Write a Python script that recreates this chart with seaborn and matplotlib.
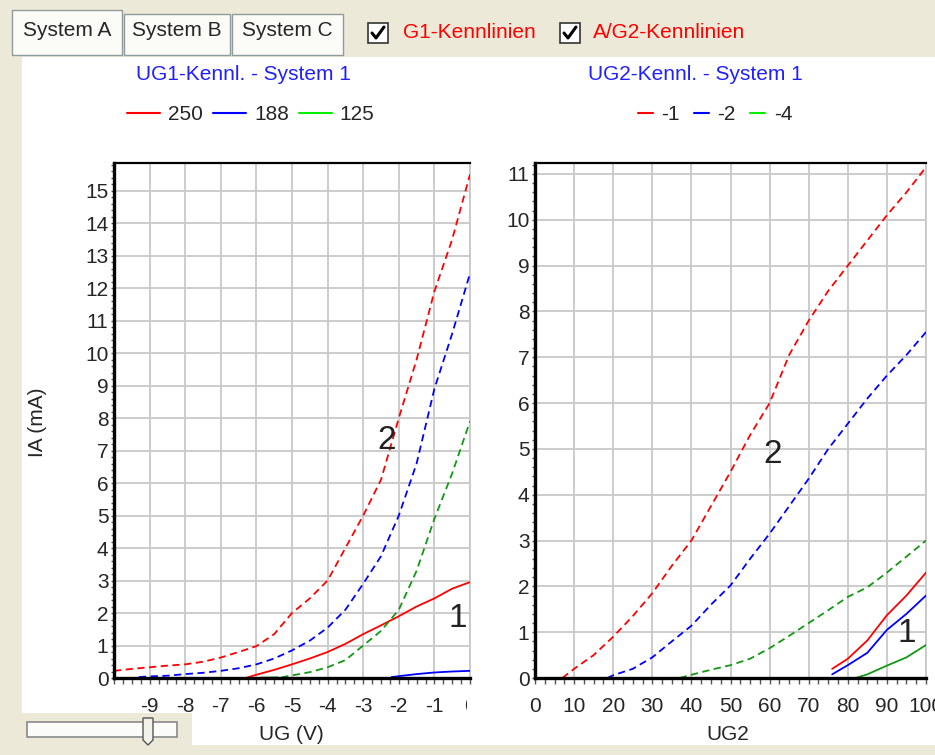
import numpy as np
import pandas as pd
import seaborn as sns
import matplotlib.pyplot as plt
from matplotlib.lines import Line2D
from matplotlib.patches import Rectangle, Polygon
from matplotlib.ticker import MultipleLocator
from matplotlib.transforms import Bbox, TransformedBbox, blended_transform_factory

# ---- left panel: IA (mA) over UG (V), dashed = system 2, solid = system 1
ug1_250_s2 = [-10, -9.5, -9, -8.5, -8, -7.5, -7, -6.5, -6, -5.5, -5, -4.5, -4, -3.5, -3, -2.5, -2, -1.5, -1, -0.5, 0]
ia1_250_s2 = [0.22, 0.28, 0.33, 0.38, 0.42, 0.5, 0.63, 0.8, 0.98, 1.35, 2.0, 2.45, 3.0, 4.0, 5.0, 6.1, 8.0, 9.8, 11.9, 13.5, 15.5]
ug1_188_s2 = [-9.3, -9, -8.5, -8, -7.5, -7, -6.5, -6, -5.5, -5, -4.5, -4, -3.5, -3, -2.5, -2, -1.5, -1, -0.5, 0]
ia1_188_s2 = [0.03, 0.05, 0.07, 0.12, 0.16, 0.22, 0.3, 0.42, 0.6, 0.85, 1.15, 1.55, 2.1, 2.9, 3.75, 5.0, 6.6, 8.9, 10.6, 12.45]
ug1_125_s2 = [-5.3, -5, -4.5, -4, -3.5, -3, -2.5, -2, -1.5, -1, -0.5, 0]
ia1_125_s2 = [0.02, 0.08, 0.18, 0.33, 0.55, 1.0, 1.45, 2.1, 3.3, 4.9, 6.3, 7.9]
ug1_250_s1 = [-6.3, -6, -5.5, -5, -4.5, -4, -3.5, -3, -2.5, -2, -1.5, -1, -0.5, 0]
ia1_250_s1 = [0.0, 0.1, 0.25, 0.42, 0.6, 0.8, 1.05, 1.35, 1.62, 1.9, 2.2, 2.45, 2.75, 2.95]
ug1_188_s1 = [-2.2, -1.5, -1, -0.5, 0]
ia1_188_s1 = [0.03, 0.12, 0.17, 0.2, 0.22]
ug1_125_s1 = [-5.9, -5.4]
ia1_125_s1 = [0.01, 0.02]

# ---- right panel: IA (mA) over UG2
ug2_m1_s2 = [7, 10, 15, 20, 25, 30, 35, 40, 45, 50, 55, 60, 65, 70, 75, 80, 85, 90, 95, 100]
ia2_m1_s2 = [0.0, 0.2, 0.5, 0.9, 1.35, 1.85, 2.45, 3.0, 3.75, 4.5, 5.3, 6.0, 7.05, 7.8, 8.45, 9.0, 9.55, 10.1, 10.6, 11.15]
ug2_m2_s2 = [18.5, 20, 25, 30, 35, 40, 45, 50, 55, 60, 65, 70, 75, 80, 85, 90, 95, 100]
ia2_m2_s2 = [0.0, 0.06, 0.2, 0.45, 0.8, 1.14, 1.6, 2.02, 2.6, 3.15, 3.75, 4.35, 5.0, 5.55, 6.1, 6.6, 7.05, 7.55]
ug2_m4_s2 = [37, 40, 45, 50, 55, 60, 65, 70, 75, 80, 85, 90, 95, 100]
ia2_m4_s2 = [0.0, 0.07, 0.18, 0.28, 0.42, 0.65, 0.92, 1.2, 1.48, 1.77, 1.98, 2.3, 2.65, 3.0]
ug2_m1_s1 = [76, 80, 85, 90, 95, 100]
ia2_m1_s1 = [0.2, 0.42, 0.82, 1.37, 1.8, 2.3]
ug2_m2_s1 = [76, 80, 85, 90, 95, 100]
ia2_m2_s1 = [0.08, 0.28, 0.55, 1.05, 1.4, 1.8]
ug2_m4_s1 = [82, 85, 90, 95, 100]
ia2_m4_s1 = [0.0, 0.08, 0.27, 0.45, 0.72]

left_labels = ['250', '188', '125']
right_labels = ['-1', '-2', '-4']
line_colors = ['#ff0000', '#0000ff', '#119911']
legend_colors = ['#ff0000', '#0000ff', '#00ee00']

sns.set_style("white")
plt.rcParams['font.family'] = ['Liberation Sans', 'DejaVu Sans']
plt.rcParams['axes.unicode_minus'] = False

W, H = 935, 755
def fx(x): return x / W
def fy(y): return 1 - y / H

fig = plt.figure(figsize=(9.35, 7.55), dpi=100)
fig.patch.set_facecolor('#ECE9D8')

# white panel of the tab control (slider box cut out bottom left)
panel = [(22, 57), (935, 57), (935, 745), (192, 745), (192, 713), (22, 713)]
fig.add_artist(Polygon([(fx(a), fy(b)) for a, b in panel], closed=True,
                       transform=fig.transFigure, facecolor='white', edgecolor='none', zorder=0))

ax1 = fig.add_axes([fx(114), fy(678), (470 - 114) / W, (678 - 163) / H])
ax2 = fig.add_axes([fx(535), fy(678), (926 - 535) / W, (678 - 163) / H])


def frame(d):
    rows = []
    for (x, y, c, s) in d:
        rows.append(pd.DataFrame({'x': x, 'y': y, 'curve': c, 'sys': s}))
    return pd.concat(rows, ignore_index=True)


left_df = frame([(ug1_250_s2, ia1_250_s2, 0, 2), (ug1_188_s2, ia1_188_s2, 1, 2), (ug1_125_s2, ia1_125_s2, 2, 2),
                 (ug1_250_s1, ia1_250_s1, 0, 1), (ug1_188_s1, ia1_188_s1, 1, 1), (ug1_125_s1, ia1_125_s1, 2, 1)])
right_df = frame([(ug2_m1_s2, ia2_m1_s2, 0, 2), (ug2_m2_s2, ia2_m2_s2, 1, 2), (ug2_m4_s2, ia2_m4_s2, 2, 2),
                  (ug2_m1_s1, ia2_m1_s1, 0, 1), (ug2_m2_s1, ia2_m2_s1, 1, 1), (ug2_m4_s1, ia2_m4_s1, 2, 1)])

for ax, df in [(ax1, left_df), (ax2, right_df)]:
    for (c, s), g in df.groupby(['curve', 'sys']):
        ls = (0, (4, 2.5)) if s == 2 else '-'
        sns.lineplot(data=g, x='x', y='y', ax=ax, color=line_colors[c], lw=1.3,
                     linestyle=ls, legend=False, zorder=3)
    ax.set_facecolor('white')
    ax.set_axisbelow(True)
    ax.grid(True, which='major', color='#c8c8c8', lw=1.3)
    ax.set_xlabel('')
    ax.set_ylabel('')
    for side, lw in [('left', 2.4), ('bottom', 2.4), ('top', 1.6)]:
        ax.spines[side].set_color('black')
        ax.spines[side].set_linewidth(lw)
        ax.spines[side].set_zorder(4)
    ax.spines['right'].set_color('#c8c8c8')
    ax.spines['right'].set_linewidth(1.3)
    ax.tick_params(axis='x', which='both', direction='out', length=4, width=1, color='#555555',
                   labelsize=15, pad=10, bottom=True)
    ax.tick_params(axis='y', which='both', direction='out', length=2, width=1, color='#555555',
                   labelsize=15, pad=2, left=True)
    ax.yaxis.set_major_locator(MultipleLocator(1))
    ax.yaxis.set_minor_locator(MultipleLocator(0.2))

ax1.set_xlim(-10, 0)
ax1.set_ylim(0, 15.85)
ax1.set_xticks(range(-9, 1))
ax1.set_xticklabels([str(v) for v in range(-9, 0)] + [''])
ax1.xaxis.set_minor_locator(MultipleLocator(0.25))
ax2.set_xlim(0, 100)
ax2.set_ylim(0, 11.24)
ax2.set_xticks(range(0, 101, 10))
ax2.set_xticklabels([str(v) for v in range(0, 101, 10)])
ax2.xaxis.set_minor_locator(MultipleLocator(2.5))

# "0" of the left chart is cut off by the control edge
t0 = fig.text(0, fy(706), '0', fontsize=15, ha='center', va='center',
              transform=blended_transform_factory(ax1.transData, fig.transFigure))
t0.set_clip_box(TransformedBbox(Bbox([[0, 0], [fx(467), 1]]), fig.transFigure))
t0.set_clip_on(True)

ax1.text(-2.34, 7.3, '2', fontsize=24, color='#222222', ha='center', va='center')
ax1.text(-0.35, 1.83, '1', fontsize=24, color='#222222', ha='center', va='center')
ax2.text(60.9, 4.87, '2', fontsize=24, color='#222222', ha='center', va='center')
ax2.text(95.1, 0.98, '1', fontsize=24, color='#222222', ha='center', va='center')

h_left = [Line2D([], [], color=c, lw=1.5) for c in legend_colors]
ax1.legend(h_left, left_labels, ncol=3, loc='center', bbox_to_anchor=(fx(251), fy(114.5)),
           bbox_transform=fig.transFigure, frameon=False, fontsize=15, handlelength=1.55,
           handletextpad=0.4, columnspacing=0.5, borderpad=0, borderaxespad=0)
h_right = [Line2D([], [], color=c, lw=1.5) for c in legend_colors]
ax2.legend(h_right, right_labels, ncol=3, loc='center', bbox_to_anchor=(fx(715), fy(114.5)),
           bbox_transform=fig.transFigure, frameon=False, fontsize=15, handlelength=0.72,
           handletextpad=0.4, columnspacing=0.7, borderpad=0, borderaxespad=0)

fig.text(fx(243), fy(74.5), 'UG1-Kennl. - System 1', color='#2020ff', fontsize=15, ha='center', va='center')
fig.text(fx(695), fy(74.5), 'UG2-Kennl. - System 1', color='#2020ff', fontsize=15, ha='center', va='center')
fig.text(fx(37.5), fy(422), 'IA (mA)', rotation=90, fontsize=15, ha='center', va='center')
fig.text(fx(291), fy(734), 'UG (V)', fontsize=15, ha='center', va='center')
fig.text(fx(727.5), fy(734), 'UG2', fontsize=15, ha='center', va='center')

# tabs and check boxes
tabs = [('System A', 12, 122, 10), ('System B', 124, 230, 14), ('System C', 232, 343, 14)]
for name, x0, x1, top in tabs:
    fig.add_artist(Rectangle((fx(x0), fy(55)), (x1 - x0) / W, (55 - top) / H, transform=fig.transFigure,
                             facecolor='#fbfbf8', edgecolor='#919b9c', lw=1, zorder=1))
    fig.text(fx((x0 + x1) / 2), fy(31), name, fontsize=15, ha='center', va='center')

for (bx, label, tx) in [(368, 'G1-Kennlinien', 403), (560, 'A/G2-Kennlinien', 593)]:
    fig.add_artist(Rectangle((fx(bx), fy(43)), 20 / W, 20 / H, transform=fig.transFigure,
                             facecolor='white', edgecolor='#333333', lw=1.2, zorder=2))
    fig.add_artist(Line2D([fx(bx + 4), fx(bx + 8), fx(bx + 16)], [fy(33), fy(38), fy(27)],
                          transform=fig.transFigure, color='black', lw=2.2, zorder=3))
    fig.text(fx(tx), fy(32), label, fontsize=15, color='#ff0000', ha='left', va='center')

# slider bottom left
fig.add_artist(Rectangle((fx(27), fy(737)), 150 / W, 15 / H, transform=fig.transFigure,
                         facecolor='#fbfbf9', edgecolor='#8a8a8a', lw=1.2, zorder=1))
thumb = [(143, 718), (153, 718), (153, 740), (148, 745), (143, 740)]
fig.add_artist(Polygon([(fx(a), fy(b)) for a, b in thumb], closed=True, transform=fig.transFigure,
                       facecolor='#f3f2ea', edgecolor='#555555', lw=1, zorder=2))

fig.savefig('out.png', dpi=100, facecolor=fig.get_facecolor())
